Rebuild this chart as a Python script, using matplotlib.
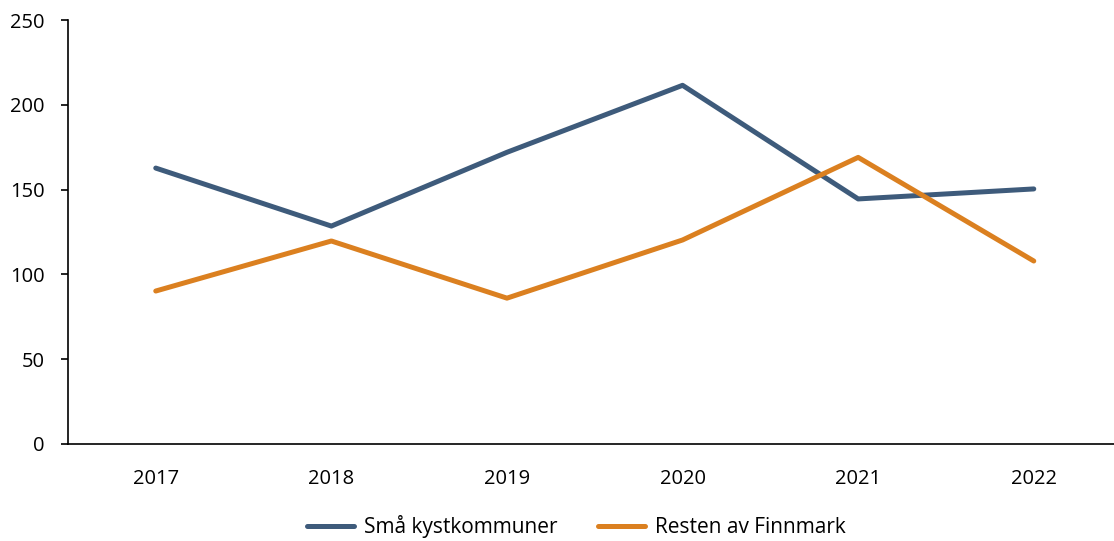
import matplotlib
matplotlib.use("Agg")
import matplotlib.pyplot as plt

years = ["2017", "2018", "2019", "2020", "2021", "2022"]
sma_kyst = [162.7, 128.5, 172.0, 211.5, 144.5, 150.4]
resten = [90.2, 119.7, 86.0, 120.3, 169.0, 107.9]

plt.rcParams['font.family'] = ['Open Sans', 'DejaVu Sans']

fig = plt.figure(figsize=(11.14, 5.41), dpi=100)
ax = fig.add_axes([0.061, 0.1793, 0.9458, 0.7837])

x = list(range(len(years)))
ax.plot(x, sma_kyst, color="#3E5B7B", lw=3.6, solid_capstyle="round", label="Små kystkommuner")
ax.plot(x, resten, color="#DB8020", lw=3.6, solid_capstyle="round", label="Resten av Finnmark")

ax.set_xlim(-0.5, 5.5)
ax.set_ylim(0, 250)
ax.set_yticks([0, 50, 100, 150, 200, 250])
ax.set_xticks(x)
ax.set_xticklabels(years)
ax.tick_params(axis='x', length=0, pad=18, labelsize=14.5)
ax.tick_params(axis='y', length=5, width=1.2, direction='out', pad=12, labelsize=14.5)
for s in ['top', 'right']:
    ax.spines[s].set_visible(False)
for s in ['left', 'bottom']:
    ax.spines[s].set_linewidth(1.2)
    ax.spines[s].set_color('black')

leg = fig.legend(loc='center', bbox_to_anchor=(0.5175, 0.026), ncol=2, frameon=False,
                 fontsize=15, handlelength=2.26, handletextpad=0.48, columnspacing=1.97)
plt.savefig("out.png", dpi=100)
